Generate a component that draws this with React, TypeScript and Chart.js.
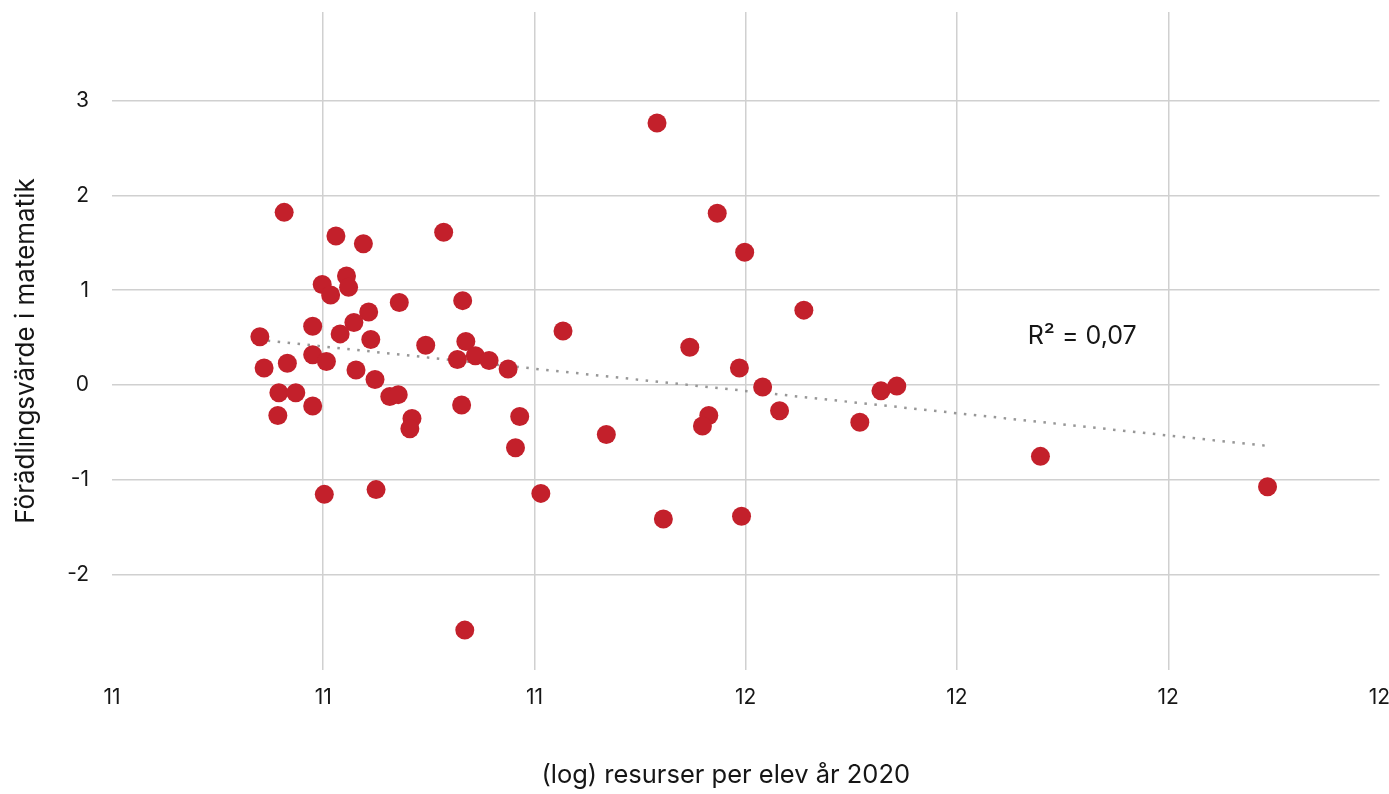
import React, { useEffect, useRef } from 'react';
import { Chart, registerables } from 'chart.js';

Chart.register(...registerables);

// (log) resources per pupil 2020
const resourcesLog = [
  10.963, 11.012, 11.038, 11.114, 10.999, 11.007, 11.022, 11.024, 11.072, 11.132,
  10.940, 10.990, 11.043, 11.029, 11.016, 11.045, 11.097, 11.135, 11.127, 11.144,
  11.157, 11.175, 11.227, 10.944, 10.966, 10.990, 11.003, 11.031, 11.049, 10.958,
  10.974, 10.957, 10.990, 11.063, 11.071, 11.084, 11.082, 11.131, 11.001, 11.050,
  11.186, 11.182, 11.268, 11.206, 11.134, 11.316, 11.373, 11.399, 11.455, 11.347,
  11.394, 11.416, 11.432, 11.528, 11.543, 11.508, 11.365, 11.359, 11.322, 11.396,
  11.679, 11.894,
];

// value added in mathematics
const valueAdded = [
  1.82, 1.57, 1.49, 1.61, 1.06, 0.95, 1.15, 1.03, 0.87, 0.89,
  0.51, 0.62, 0.77, 0.66, 0.54, 0.48, 0.42, 0.46, 0.27, 0.31,
  0.26, 0.17, 0.57, 0.18, 0.23, 0.32, 0.25, 0.16, 0.06, -0.08,
  -0.08, -0.32, -0.22, -0.12, -0.10, -0.35, -0.46, -0.21, -1.15, -1.10,
  -0.33, -0.66, -0.52, -1.14, -2.58, 2.76, 1.81, 1.40, 0.79, 0.40,
  0.18, -0.02, -0.27, -0.06, -0.01, -0.39, -0.32, -0.43, -1.41, -1.38,
  -0.75, -1.07,
];

// linear trend line (as drawn in the source), endpoints
const trendX = [10.938, 11.894];
const trendY = [0.48, -0.64];

const xTickValues = [10.8, 11.0, 11.2, 11.4, 11.6, 11.8, 12.0];
const xTickLabels = ['11', '11', '11', '12', '12', '12', '12'];
const yTickValues = [-3, -2, -1, 0, 1, 2, 3];
const yTickLabels = ['', '-2', '-1', '0', '1', '2', '3'];

const xTitle = '(log) resurser per elev år 2020';
const yTitle = 'Förädlingsvärde i matematik';
const rSquaredLabel = 'R\u00B2 = 0,07';
const rSquaredAnchor = { x: 11.667, y: 0.516 };

const FONT = 'Inter';
const TEXT = '#161616';
const RED = '#C3202B';
const GRID = '#d0d0d0';
const CLEAR = 'rgba(0,0,0,0)';

export default function App() {
  const canvasRef = useRef<HTMLCanvasElement | null>(null);

  useEffect(() => {
    document.body.style.margin = '0';
    const canvas = canvasRef.current;
    if (!canvas) return;

    const points = resourcesLog.map((x, i) => ({ x, y: valueAdded[i] }));
    const trend = trendX.map((x, i) => ({ x, y: trendY[i] }));

    const textPlugin = {
      id: 'textLabels',
      afterDatasetsDraw(chart: any) {
        const { ctx, scales, chartArea, height } = chart;
        ctx.save();
        ctx.fillStyle = TEXT;
        // R² annotation
        ctx.font = `25px ${FONT}`;
        ctx.textAlign = 'left';
        ctx.textBaseline = 'middle';
        ctx.fillText(
          rSquaredLabel,
          scales.x.getPixelForValue(rSquaredAnchor.x),
          scales.y.getPixelForValue(rSquaredAnchor.y)
        );
        // x axis title
        ctx.font = `25.5px ${FONT}`;
        ctx.textAlign = 'center';
        ctx.textBaseline = 'middle';
        ctx.fillText(xTitle, (chartArea.left + chartArea.right) / 2 - 20, height - 19);
        // y axis title
        ctx.translate(26, (chartArea.top + chartArea.bottom) / 2 + 10);
        ctx.rotate(-Math.PI / 2);
        ctx.font = `26px ${FONT}`;
        ctx.fillText(yTitle, 0, 0);
        ctx.restore();
      },
    };

    const chart = new Chart(canvas, {
      type: 'scatter',
      data: {
        datasets: [
          {
            type: 'line',
            data: trend,
            borderColor: '#979797',
            borderWidth: 2.5,
            borderDash: [2.5, 7.5],
            pointRadius: 0,
            fill: false,
            order: 2,
          } as any,
          {
            type: 'scatter',
            data: points,
            backgroundColor: RED,
            borderWidth: 0,
            pointRadius: 9.5,
            pointHoverRadius: 9.5,
            order: 1,
          },
        ],
      },
      options: {
        animation: false,
        responsive: true,
        maintainAspectRatio: false,
        layout: { padding: 0 },
        plugins: {
          legend: { display: false },
          tooltip: { enabled: false },
        },
        scales: {
          x: {
            type: 'linear',
            min: 10.8,
            max: 12.0,
            afterBuildTicks: (axis: any) => {
              axis.ticks = xTickValues.map((v) => ({ value: v }));
            },
            afterFit: (scale: any) => {
              scale.height = 124;
              scale.paddingRight = 9;
              scale.paddingLeft = 0;
            },
            ticks: {
              padding: 0,
              color: TEXT,
              font: { family: FONT, size: 21 },
              maxRotation: 0,
              autoSkip: false,
              callback: (_v: any, i: number) => xTickLabels[i],
            },
            grid: {
              drawTicks: true,
              tickLength: 15,
              tickColor: CLEAR,
              lineWidth: 1.5,
              color: (c: any) =>
                c.index === 0 || c.index === xTickValues.length - 1 ? CLEAR : GRID,
            },
            border: { display: false },
            title: { display: false },
          },
          y: {
            type: 'linear',
            min: -3,
            max: 3.93,
            afterBuildTicks: (axis: any) => {
              axis.ticks = yTickValues.map((v) => ({ value: v }));
            },
            afterFit: (scale: any) => {
              scale.width = 112;
              scale.paddingTop = 12;
              scale.paddingBottom = 0;
            },
            ticks: {
              padding: 0,
              color: TEXT,
              font: { family: FONT, size: 21 },
              autoSkip: false,
              callback: (_v: any, i: number) => yTickLabels[i],
            },
            grid: {
              drawTicks: true,
              tickLength: 23,
              tickColor: CLEAR,
              lineWidth: 1.5,
              color: (c: any) => (c.index === 0 ? CLEAR : GRID),
            },
            border: { display: false },
            title: { display: false },
          },
        },
      },
      plugins: [textPlugin],
    });

    return () => chart.destroy();
  }, []);

  return (
    <div style={{ position: 'relative', width: 1389, height: 794 }}>
      <canvas ref={canvasRef} />
    </div>
  );
}
